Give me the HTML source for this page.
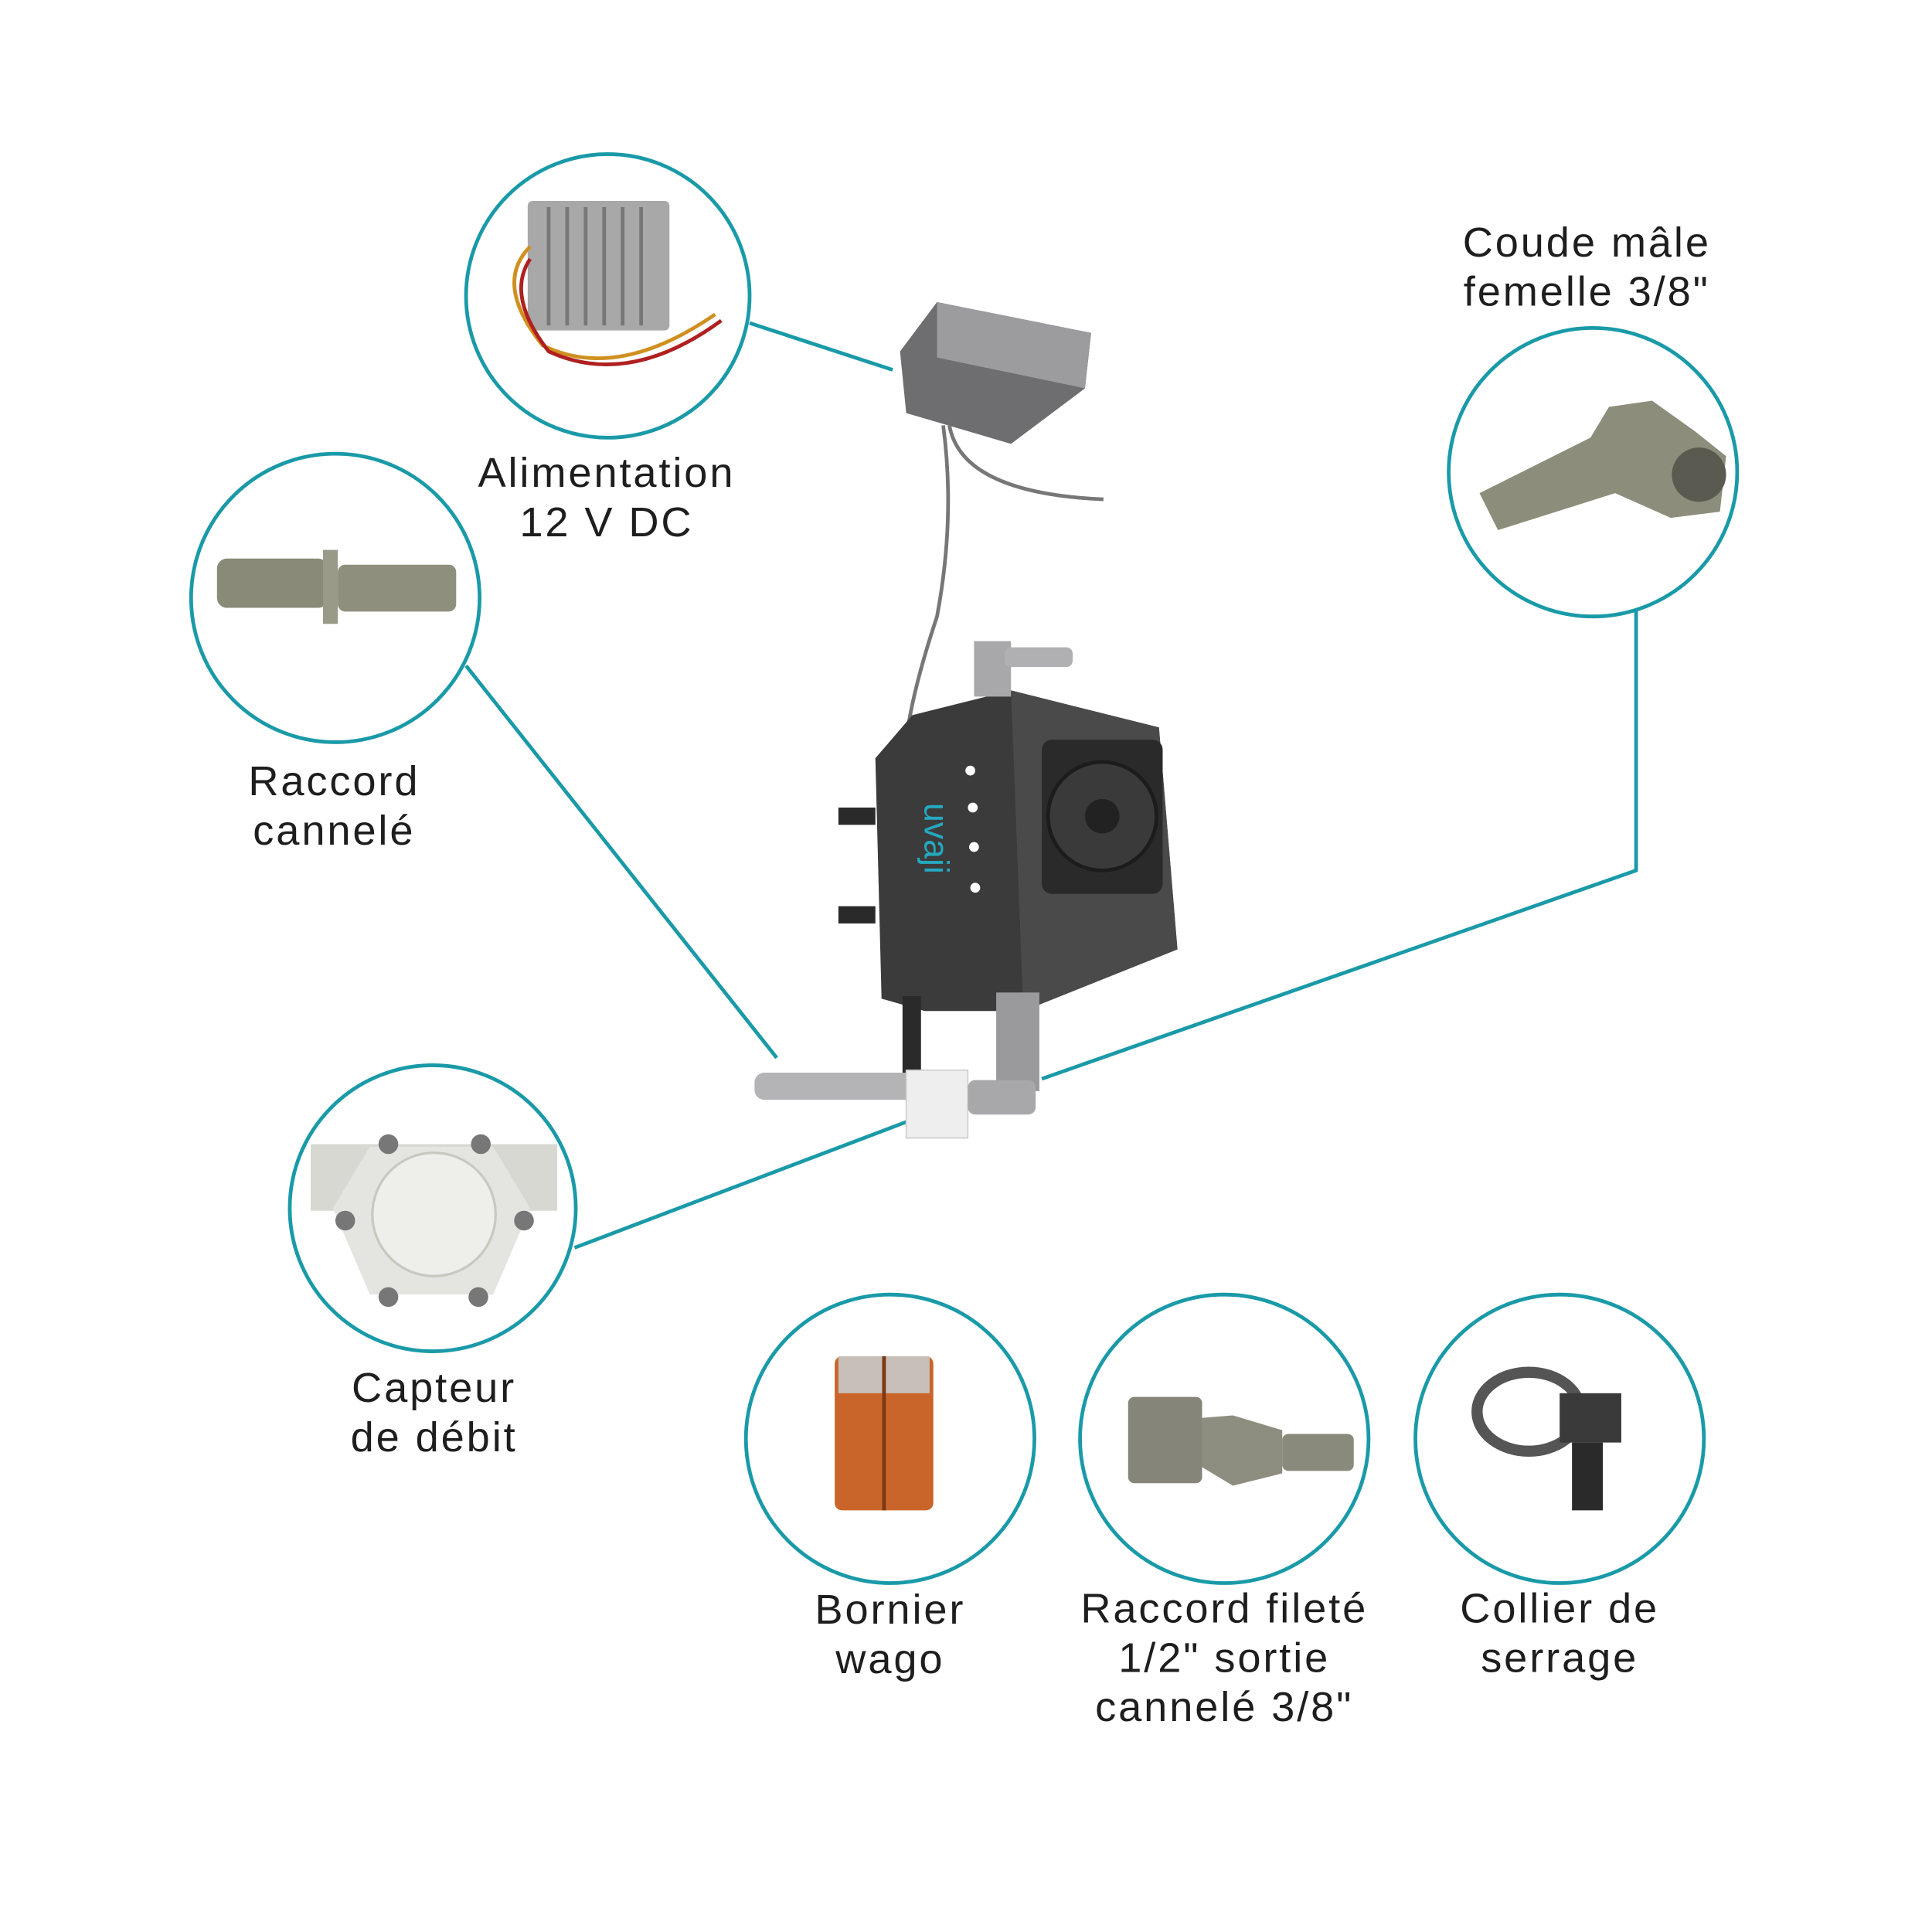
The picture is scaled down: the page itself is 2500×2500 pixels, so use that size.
<!DOCTYPE html>
<html><head><meta charset="utf-8"><style>
html,body{margin:0;padding:0;background:#fff}
svg{display:block}
text{font-family:"Liberation Sans","DejaVu Sans",sans-serif;font-size:34px;letter-spacing:1.8px;fill:#1e1e1e;text-anchor:middle}
</style></head><body>
<svg width="2500" height="2500" viewBox="0 0 1567 1567" xmlns="http://www.w3.org/2000/svg">
<rect width="1567" height="1567" fill="#fff"/>
<g stroke="#1a9aa8" stroke-width="3" fill="none">
<circle cx="493" cy="240" r="115"/>
<circle cx="272" cy="485" r="117"/>
<circle cx="1292" cy="383" r="117"/>
<circle cx="351" cy="980" r="116"/>
<circle cx="722" cy="1167" r="117"/>
<circle cx="993" cy="1167" r="117"/>
<circle cx="1265" cy="1167" r="117"/>
<line x1="608" y1="262" x2="724" y2="300"/>
<line x1="378" y1="540" x2="630" y2="858"/>
<polyline points="1327,495 1327,706 845,875"/>
<line x1="466" y1="1012" x2="735" y2="910"/>
</g>
<rect x="428" y="163" width="115" height="105" fill="#a8a8a8" rx="4"/>
<g stroke="#777" stroke-width="3"><line x1="445" y1="168" x2="445" y2="264"/><line x1="460" y1="168" x2="460" y2="264"/><line x1="475" y1="168" x2="475" y2="264"/><line x1="490" y1="168" x2="490" y2="264"/><line x1="505" y1="168" x2="505" y2="264"/><line x1="520" y1="168" x2="520" y2="264"/></g>
<path d="M430 200 Q400 230 440 280 Q500 310 580 255" stroke="#d09020" stroke-width="3" fill="none"/>
<path d="M430 210 Q410 240 445 285 Q510 315 585 260" stroke="#b02020" stroke-width="3" fill="none"/>
<rect x="176" y="453" width="90" height="40" rx="8" fill="#8a8a78"/>
<rect x="262" y="446" width="12" height="60" fill="#9a9a88"/>
<rect x="274" y="458" width="96" height="38" rx="6" fill="#8f8f7d"/>
<path d="M1200 400 L1290 355 L1305 330 L1340 325 L1375 350 L1400 370 L1395 415 L1355 420 L1310 400 L1215 430 Z" fill="#8d8d7c"/>
<circle cx="1378" cy="385" r="22" fill="#5a5a50"/>
<rect x="252" y="928" width="200" height="54" fill="#d8d8d2"/>
<polygon points="300,930 400,930 430,980 400,1050 300,1050 270,980" fill="#e4e4e0"/>
<circle cx="352" cy="985" r="50" fill="#eeeeea" stroke="#c8c8c0" stroke-width="2"/>
<g fill="#777"><circle cx="315" cy="928" r="8"/><circle cx="390" cy="928" r="8"/><circle cx="280" cy="990" r="8"/><circle cx="425" cy="990" r="8"/><circle cx="315" cy="1052" r="8"/><circle cx="388" cy="1052" r="8"/></g>
<rect x="677" y="1100" width="80" height="125" rx="6" fill="#c9652a"/>
<rect x="680" y="1100" width="74" height="30" fill="#c8c0b8"/>
<line x1="717" y1="1100" x2="717" y2="1225" stroke="#7a3a14" stroke-width="3"/>
<rect x="915" y="1133" width="60" height="70" rx="5" fill="#85857a"/>
<path d="M975 1150 L1000 1148 L1040 1160 L1040 1195 L1000 1205 L975 1190 Z" fill="#8d8d80"/>
<rect x="1040" y="1163" width="58" height="30" rx="5" fill="#8a8a7c"/>
<ellipse cx="1240" cy="1145" rx="42" ry="32" fill="none" stroke="#555" stroke-width="9"/>
<rect x="1265" y="1130" width="50" height="40" fill="#3a3a3a"/>
<rect x="1275" y="1170" width="25" height="55" fill="#2a2a2a"/>
<polygon points="730,285 760,245 885,270 880,315 820,360 735,335" fill="#6e6e70"/>
<polygon points="760,245 885,270 880,315 760,290" fill="#9c9c9e"/>
<path d="M770 345 Q780 400 895 405" stroke="#777" stroke-width="3" fill="none"/>
<path d="M765 345 Q775 420 760 500 Q740 560 735 600" stroke="#777" stroke-width="3" fill="none"/>
<polygon points="710,615 740,580 820,560 940,590 955,770 830,820 750,820 715,810" fill="#3b3b3c"/>
<polygon points="820,560 940,590 955,770 830,820" fill="#4a4a4b"/>
<rect x="845" y="600" width="98" height="125" rx="8" fill="#2a2a2a"/>
<circle cx="894" cy="662" r="44" fill="#3a3a3a" stroke="#1c1c1c" stroke-width="3"/>
<circle cx="894" cy="662" r="14" fill="#222"/>
<text x="770" y="700" style="font-size:28px;letter-spacing:0;fill:#24a9c0" transform="rotate(90 770 680)">uvaji</text>
<g fill="#fff"><circle cx="787" cy="625" r="4"/><circle cx="789" cy="655" r="4"/><circle cx="790" cy="687" r="4"/><circle cx="791" cy="720" r="4"/></g>
<rect x="680" y="655" width="30" height="14" fill="#2a2a2a"/>
<rect x="680" y="735" width="30" height="14" fill="#2a2a2a"/>
<rect x="790" y="520" width="30" height="45" fill="#a8a8aa"/>
<rect x="815" y="525" width="55" height="16" rx="5" fill="#b0b0b2"/>
<rect x="808" y="805" width="35" height="80" fill="#9a9a9c"/>
<rect x="732" y="808" width="15" height="65" fill="#2a2a2a"/>
<rect x="612" y="870" width="140" height="22" rx="8" fill="#b4b4b6"/>
<rect x="735" y="868" width="50" height="55" fill="#eeeeee" stroke="#ccc"/>
<rect x="785" y="876" width="55" height="28" rx="6" fill="#a8a8aa"/>
<text x="492" y="395">Alimentation</text>
<text x="492" y="435">12 V DC</text>
<text x="271" y="645">Raccord</text>
<text x="271" y="685">cannelé</text>
<text x="1287" y="208">Coude mâle</text>
<text x="1287" y="248">femelle 3/8"</text>
<text x="352" y="1137">Capteur</text>
<text x="352" y="1177">de débit</text>
<text x="722" y="1317">Bornier</text>
<text x="722" y="1357">wago</text>
<text x="993" y="1316">Raccord fileté</text>
<text x="993" y="1356">1/2" sortie</text>
<text x="993" y="1396">cannelé 3/8"</text>
<text x="1265" y="1316">Collier de</text>
<text x="1265" y="1356">serrage</text>
</svg>
</body></html>
